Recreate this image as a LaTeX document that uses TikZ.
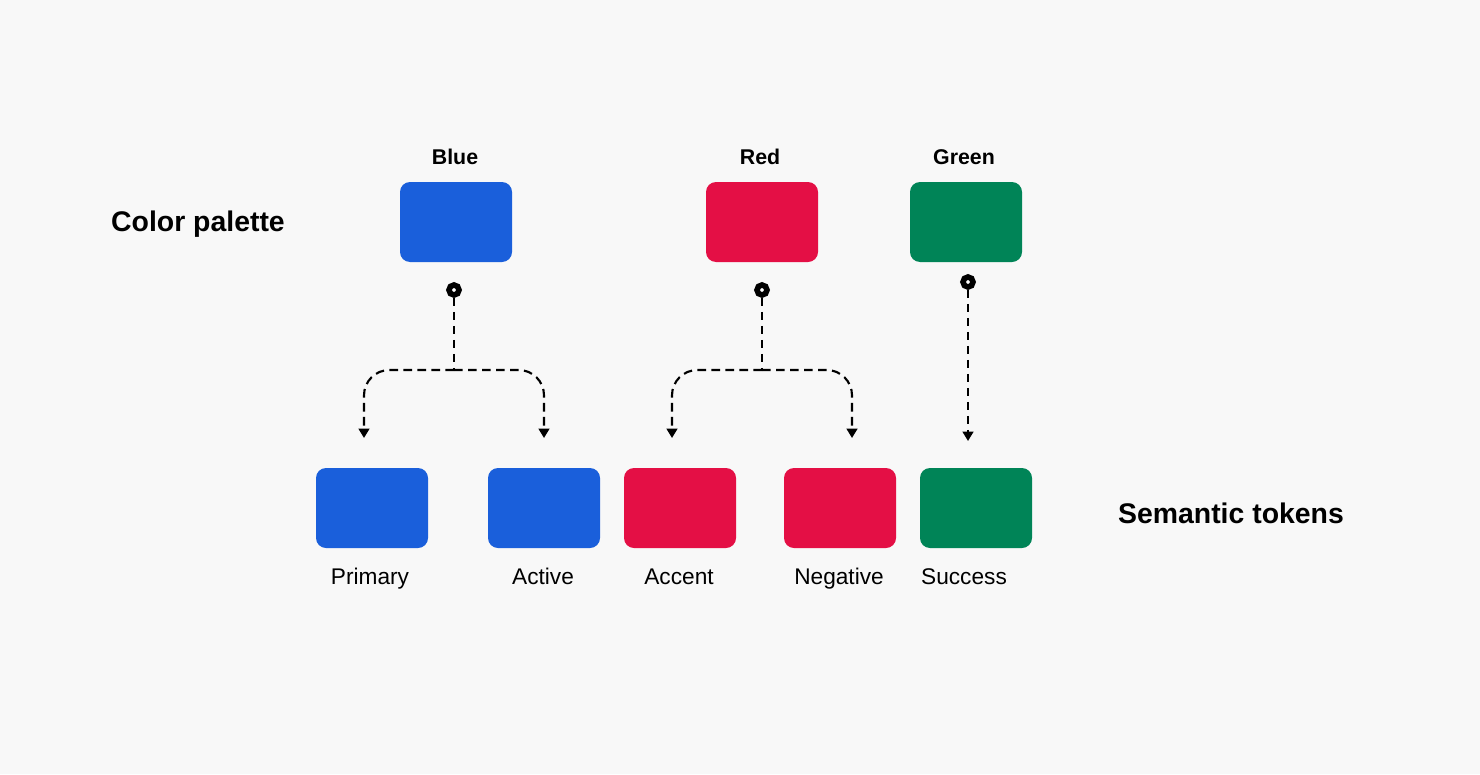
\documentclass[tikz,border=0pt]{standalone}
\usepackage{fontspec}
\setmainfont{Liberation Sans}
\usetikzlibrary{arrows.meta}
\definecolor{bgc}{HTML}{F8F8F8}
\definecolor{palblue}{HTML}{1A5FDB}
\definecolor{palred}{HTML}{E40F45}
\definecolor{palgreen}{HTML}{008457}
\begin{document}
\begin{tikzpicture}[x=0.75pt,y=-0.75pt]
      \tikzstyle{swatch}=[rectangle,rounded corners=7.5pt,minimum width=84pt,minimum height=60pt,inner sep=0pt]
      \tikzstyle{title}=[font=\fontsize{16}{19}\selectfont\bfseries,inner sep=0pt,anchor=base]
      \tikzstyle{tag}=[font=\fontsize{17}{20}\selectfont,inner sep=0pt,anchor=base]
      \tikzstyle{group}=[font=\fontsize{21.3}{25}\selectfont\bfseries,inner sep=0pt,anchor=base]
      \tikzstyle{pin}=[circle,fill=white,draw=black,line width=4.2pt,minimum size=7.5pt,inner sep=0pt]
      \tikzstyle{flow}=[line width=1.6pt,dash pattern=on 6.5pt off 4pt,rounded corners=19pt,-{Triangle[width=8pt,length=7pt]}]
      \fill[bgc] (0,0) rectangle (1480,774);
      \useasboundingbox (0,0) rectangle (1480,774);
      \node[group] (palette) at (198,231) {Color palette};
      \node[group] (tokens) at (1231,523) {Semantic tokens};
      \node[swatch,fill=palblue] (blue) at (456,222) {};
      \node[swatch,fill=palred] (red) at (762,222) {};
      \node[swatch,fill=palgreen] (green) at (966,222) {};
      \node[title] (bluet) at (455,164) {Blue};
      \node[title] (redt) at (760,164) {Red};
      \node[title] (greent) at (964,164) {Green};
      \node[swatch,fill=palblue] (primary) at (372,508) {};
      \node[swatch,fill=palblue] (active) at (544,508) {};
      \node[swatch,fill=palred] (accent) at (680,508) {};
      \node[swatch,fill=palred] (negative) at (840,508) {};
      \node[swatch,fill=palgreen] (success) at (976,508) {};
      \node[tag] (primaryt) at (370,584) {Primary};
      \node[tag] (activet) at (543,584) {Active};
      \node[tag] (accentt) at (679,584) {Accent};
      \node[tag] (negativet) at (839,584) {Negative};
      \node[tag] (successt) at (964,584) {Success};
      \node[pin] (bluepin) at (454,290) {};
      \node[pin] (redpin) at (762,290) {};
      \node[pin] (greenpin) at (968,282) {};
      \coordinate (bluejoin) at (454,370);
      \coordinate (redjoin) at (762,370);
      \coordinate (primarytip) at (364,438);
      \coordinate (activetip) at (544,438);
      \coordinate (accenttip) at (672,438);
      \coordinate (negativetip) at (852,438);
      \coordinate (successtip) at (968,441);
      \draw[flow,-] (bluepin) -- (bluejoin);
      \draw[flow] (bluejoin) -| (primarytip);
      \draw[flow] (bluejoin) -| (activetip);
      \draw[flow,-] (redpin) -- (redjoin);
      \draw[flow] (redjoin) -| (accenttip);
      \draw[flow] (redjoin) -| (negativetip);
      \draw[flow] (greenpin) -- (successtip);
    \end{tikzpicture}
\end{document}
